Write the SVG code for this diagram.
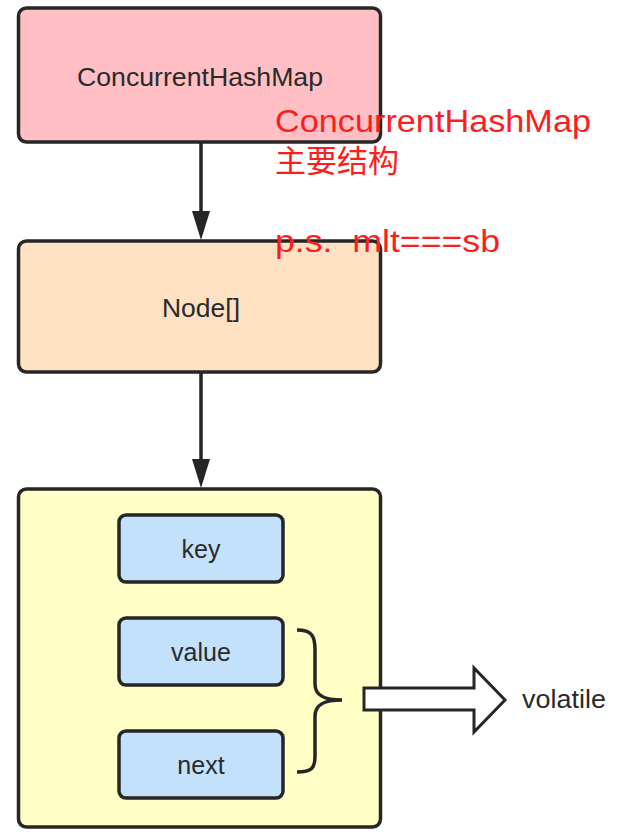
<svg xmlns="http://www.w3.org/2000/svg" width="619" height="834" viewBox="0 0 619 834">
<style>
.box{stroke:#262626;stroke-width:3.5}
.lbl{font-family:"Liberation Sans",Arial,sans-serif;font-size:25px;fill:#2a2a2a;text-anchor:middle}
.red{font-family:"Liberation Sans","Noto Sans CJK SC",sans-serif;fill:#ff1c1c}
.ln{stroke:#262626;stroke-width:3.5;fill:none}
</style>
<defs>
<marker id="ah" markerUnits="userSpaceOnUse" markerWidth="20" markerHeight="30" viewBox="0 0 20 30" refX="10" refY="29" orient="auto-start-reverse">
<path d="M1,1 L19,1 L10,29 Z" fill="#262626" transform="rotate(0)"/>
</marker>
</defs>
<rect width="619" height="834" fill="#ffffff"/>
<g id="connectors">
<line class="ln" x1="201" y1="143" x2="201" y2="213"/>
<polygon points="192,211 210,211 201,240" fill="#262626"/>
<line class="ln" x1="201" y1="373" x2="201" y2="461"/>
<polygon points="192,459 210,459 201,488" fill="#262626"/>
</g>
<g id="chm">
<rect class="box" x="18.5" y="8" width="362" height="134" rx="8" fill="#ffbfc5"/>
<text class="lbl" x="200" y="85.5" textLength="246" lengthAdjust="spacingAndGlyphs">ConcurrentHashMap</text>
</g>
<g id="nodes">
<rect class="box" x="18.5" y="241" width="362" height="131" rx="8" fill="#ffe2c4"/>
<text class="lbl" x="201" y="317" textLength="78" lengthAdjust="spacingAndGlyphs">Node[]</text>
</g>
<g id="node">
<rect class="box" x="18.5" y="489" width="362" height="338" rx="8" fill="#ffffc6"/>
</g>
<g id="key">
<rect class="box" x="119" y="515" width="164" height="67" rx="7" fill="#c4e1fc"/>
<text class="lbl" x="201" y="558">key</text>
</g>
<g id="value">
<rect class="box" x="119" y="618" width="164" height="67" rx="7" fill="#c4e1fc"/>
<text class="lbl" x="201" y="661">value</text>
</g>
<g id="next">
<rect class="box" x="119" y="731" width="164" height="67" rx="7" fill="#c4e1fc"/>
<text class="lbl" x="201" y="774">next</text>
</g>
<g id="brace">
<path class="ln" d="M297,630 C312,630 315,636 315,650 L315,684 C315,696 325,700 342,700 C325,700 315,704 315,716 L315,756 C315,768 312,772 297,772"/>
</g>
<g id="bigarrow">
<polygon points="364,688 474,688 474,668 505,700 474,732 474,710 364,710" fill="#ffffff" stroke="#262626" stroke-width="3" stroke-linejoin="miter"/>
</g>
<g id="volatile">
<text class="lbl" x="522" y="708" text-anchor="start" style="text-anchor:start" textLength="84" lengthAdjust="spacingAndGlyphs">volatile</text>
</g>
<g id="note">
<text class="red" x="275" y="132" font-size="31" textLength="316" lengthAdjust="spacingAndGlyphs">ConcurrentHashMap</text>
<text class="red" x="275" y="172" font-size="31">主要结构</text>
<text class="red" x="275" y="252" font-size="31" xml:space="preserve" textLength="225" lengthAdjust="spacingAndGlyphs">p.s.  mlt===sb</text>
</g>
</svg>
